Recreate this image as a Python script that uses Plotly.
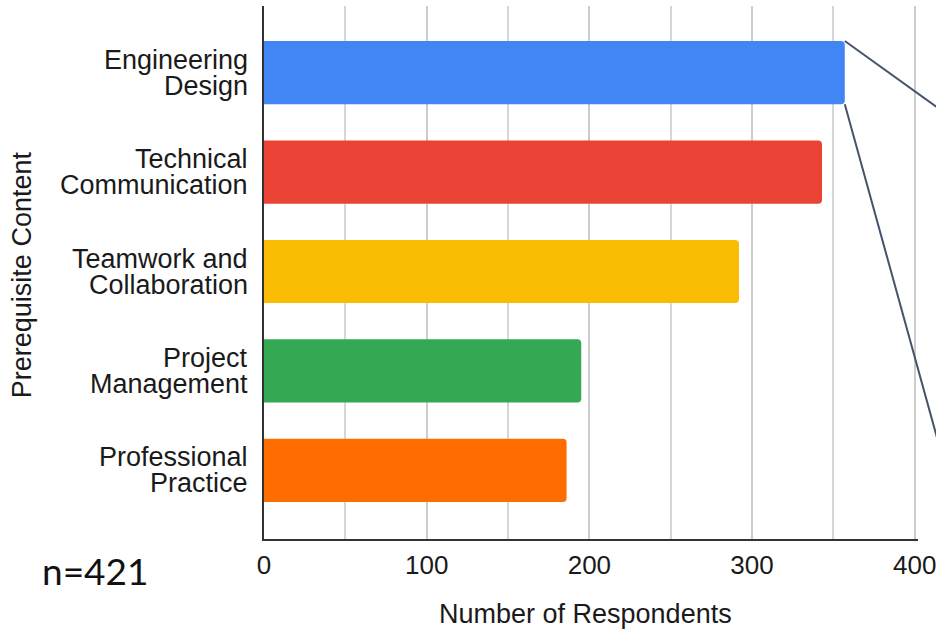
"""
Prerequisite content survey - horizontal bar chart of respondent counts.
"""
import plotly.graph_objects as go

# Data (top to bottom as shown)
categories = ['Engineering Design', 'Technical Communication',
              'Teamwork and Collaboration', 'Project Management',
              'Professional Practice']
label_lines = [('Engineering', 'Design'),
               ('Technical', 'Communication'),
               ('Teamwork and', 'Collaboration'),
               ('Project', 'Management'),
               ('Professional', 'Practice')]
respondents = [357, 343, 292, 195, 186]
bar_colors = ['#4285F4', '#EA4335', '#FBBC04', '#34A853', '#FF6D01']
x_ticks = [0, 100, 200, 300, 400]
n_total = 421

FONT = 'Arial, Liberation Sans, sans-serif'
TXT = '#1a1a1a'
X_MAX = 402      # a little past 400 so the 400 gridline is still drawn
BAR_W = 0.635
Y_RANGE = [4.69, -0.67]      # reversed category axis with padding

fig = go.Figure()
fig.add_trace(go.Bar(
    x=respondents, y=categories, orientation='h',
    width=BAR_W,
    marker=dict(color=bar_colors, line_width=0, cornerradius=4),
    hoverinfo='x+y', showlegend=False,
))

# Two-line category labels, left of the axis
annotations = []
for cat, (l1, l2) in zip(categories, label_lines):
    for txt, shift in ((l1, 13), (l2, -13)):
        annotations.append(dict(
            x=0, xref='x domain', y=cat, yref='y', text=txt,
            xanchor='right', yanchor='middle', xshift=-14, yshift=shift,
            showarrow=False, font=dict(family=FONT, size=27, color=TXT)))

# Axis titles and sample size note
annotations += [
    dict(x=-0.37, xref='paper', y=0.495, yref='paper',
         text='Prerequisite Content', textangle=-90, showarrow=False,
         xanchor='center', yanchor='middle',
         font=dict(family=FONT, size=27, color=TXT)),
    dict(x=0.492, xref='paper', y=-0.141, yref='paper',
         text='Number of Respondents', showarrow=False,
         xanchor='center', yanchor='middle',
         font=dict(family=FONT, size=27, color=TXT)),
    dict(x=-0.342, xref='paper', y=-0.06, yref='paper',
         text=f'n={n_total}', showarrow=False,
         xanchor='left', yanchor='middle',
         font=dict(family='Lato, Open Sans, sans-serif', size=37,
                   color='#111111')),
]

# Callout lines leaving the top bar's end (toward an off-chart zoom box)
def y_dom(v):
    return (Y_RANGE[0] - v) / (Y_RANGE[0] - Y_RANGE[1])

top_i = 0
x_end = respondents[top_i] / X_MAX
callout_to = [(top_i - BAR_W / 2, 0.40), (top_i + BAR_W / 2, 3.93)]
shapes = []
for y_start, y_stop in callout_to:
    shapes.append(dict(
        type='line', xref='x domain', yref='y domain',
        x0=x_end, y0=y_dom(y_start), x1=1.04, y1=y_dom(y_stop),
        line=dict(color='#44546A', width=2)))

fig.update_layout(
    width=936, height=631,
    margin=dict(l=264, r=18, t=6, b=92),
    paper_bgcolor='white', plot_bgcolor='white',
    bargap=0.365,
    annotations=annotations,
    shapes=shapes,
    xaxis=dict(
        range=[0, X_MAX], tickvals=x_ticks, automargin=False,
        showgrid=True, gridcolor='#cccccc', gridwidth=2,
        minor=dict(dtick=50, showgrid=True, gridcolor='#d6d6d6',
                   gridwidth=1.5),
        showline=True, linecolor='#333333', linewidth=2,
        zeroline=False, ticks='', ticklabelstandoff=2,
        ticklabeloverflow='allow',
        tickfont=dict(family=FONT, size=26, color=TXT),
    ),
    yaxis=dict(
        categoryorder='array', categoryarray=categories,
        range=Y_RANGE, showticklabels=False, showgrid=False,
        automargin=False,
        showline=True, linecolor='#333333', linewidth=2,
        zeroline=False, ticks='',
    ),
)

# Drop the page's default body margin so the figure sits at the corner
fig.write_html('out.html', config={'displayModeBar': False},
               post_script="document.body.style.margin='0';")
